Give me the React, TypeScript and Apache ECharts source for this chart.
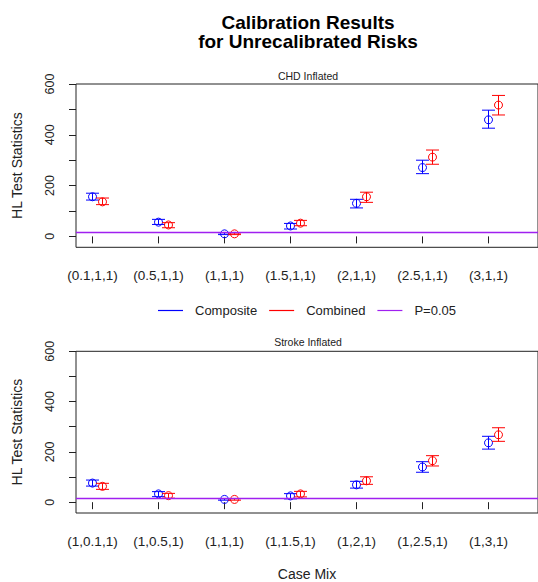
import React, { useEffect, useRef } from "react";
import * as echarts from "echarts";

const categoriesCHD = ["(0.1,1,1)", "(0.5,1,1)", "(1,1,1)", "(1.5,1,1)", "(2,1,1)", "(2.5,1,1)", "(3,1,1)"];
const categoriesStroke = ["(1,0.1,1)", "(1,0.5,1)", "(1,1,1)", "(1,1.5,1)", "(1,2,1)", "(1,2.5,1)", "(1,3,1)"];

// CHD inflated panel
const compositeCHD = [156, 56, 10, 41, 130, 271, 459];
const compositeCHDLo = [143, 47, 7, 29, 112, 247, 426];
const compositeCHDHi = [170, 67, 14, 51, 146, 300, 497];
const combinedCHD = [136, 45, 10, 52, 156, 312, 517];
const combinedCHDLo = [125, 34, 7, 42, 134, 284, 478];
const combinedCHDHi = [151, 54, 13, 63, 174, 340, 555];

// Stroke inflated panel
const compositeStroke = [76, 33, 11, 25, 69, 140, 236];
const compositeStrokeLo = [64, 22, 8, 13, 56, 119, 211];
const compositeStrokeHi = [88, 42, 14, 34, 83, 161, 262];
const combinedStroke = [63, 26, 11, 33, 85, 165, 268];
const combinedStrokeLo = [51, 16, 8, 21, 71, 144, 242];
const combinedStrokeHi = [75, 35, 14, 43, 101, 185, 296];

const pThreshold = 15.51;
const yTicks = [0, 100, 200, 300, 400, 500, 600];
const yLabels = [0, 200, 400, 600];

const FONT = "Liberation Sans, Arial, Helvetica, sans-serif";
const BLUE = "#0000FF";
const RED = "#FF0000";
const PURPLE = "#A020F0";

function rows(vals: number[], lo: number[], hi: number[]) {
  return vals.map((v, i) => [i + 1, v, lo[i], hi[i]]);
}

function makeRender(offsetPx: number, color: string) {
  return (params: any, api: any) => {
    const x = api.value(0);
    const pm = api.coord([x, api.value(1)]);
    const plo = api.coord([x, api.value(2)]);
    const phi = api.coord([x, api.value(3)]);
    const cx = pm[0] + offsetPx;
    const cap = 6.5;
    const st = { stroke: color, lineWidth: 1, fill: "none" };
    return {
      type: "group",
      children: [
        { type: "line", shape: { x1: cx, y1: plo[1], x2: cx, y2: phi[1] }, style: st },
        { type: "line", shape: { x1: cx - cap, y1: plo[1], x2: cx + cap, y2: plo[1] }, style: st },
        { type: "line", shape: { x1: cx - cap, y1: phi[1], x2: cx + cap, y2: phi[1] }, style: st },
        { type: "circle", shape: { cx: cx, cy: pm[1], r: 4 }, style: st },
      ],
    };
  };
}

function xAxisFor(cats: string[], gridIndex: number, withName: boolean) {
  return {
    type: "value",
    gridIndex,
    min: 0.75,
    max: 7.75,
    axisLine: { show: false },
    splitLine: { show: false },
    axisTick: { show: true, length: 7, lineStyle: { color: "#222" }, customValues: cats.map((_, i) => i + 1) },
    axisLabel: {
      show: true,
      customValues: cats.map((_, i) => i + 1),
      formatter: (v: number) => cats[Math.round(v) - 1] ?? "",
      color: "#222",
      fontFamily: FONT,
      fontSize: 13.5,
      margin: 21,
    },
    name: withName ? "Case Mix" : "",
    nameLocation: "middle",
    nameGap: 54,
    nameTextStyle: { color: "#222", fontFamily: FONT, fontSize: 14 },
  };
}

function yAxisFor(gridIndex: number) {
  return {
    type: "value",
    gridIndex,
    min: -43,
    max: 600,
    axisLine: { show: false },
    splitLine: { show: false },
    axisTick: { show: true, length: 7, lineStyle: { color: "#222" }, customValues: yTicks },
    axisLabel: {
      show: true,
      customValues: yLabels,
      rotate: 90,
      color: "#222",
      fontFamily: FONT,
      fontSize: 12.5,
      margin: 20,
    },
    name: "HL Test Statistics",
    nameLocation: "middle",
    nameRotate: 90,
    nameGap: 52,
    nameTextStyle: { color: "#222", fontFamily: FONT, fontSize: 14 },
  };
}

export default function App() {
  const ref = useRef<HTMLDivElement>(null);
  useEffect(() => {
    if (!ref.current) return;
    const chart = echarts.init(ref.current, null, { renderer: "svg" });
    const option: any = {
      animation: false,
      backgroundColor: "#fff",
      title: [
        {
          text: "Calibration Results\nfor Unrecalibrated Risks",
          left: 308,
          top: 12.5,
          padding: 0,
          textAlign: "center",
          textStyle: { fontFamily: FONT, fontSize: 19, fontWeight: "bold", color: "#000", lineHeight: 19 },
        },
        {
          text: "CHD Inflated",
          left: 308,
          top: 70,
          padding: 0,
          textAlign: "center",
          textStyle: { fontFamily: FONT, fontSize: 10.5, fontWeight: "normal", color: "#222" },
        },
        {
          text: "Stroke Inflated",
          left: 308,
          top: 336,
          padding: 0,
          textAlign: "center",
          textStyle: { fontFamily: FONT, fontSize: 10.5, fontWeight: "normal", color: "#222" },
        },
      ],
      legend: {
        left: 158,
        top: 304,
        padding: 0,
        icon: "rect",
        itemWidth: 25,
        itemHeight: 1.2,
        itemGap: 12,
        textStyle: { fontFamily: FONT, fontSize: 13, color: "#222", padding: [0, 0, 0, 7] },
        data: [
          { name: "Composite", itemStyle: { color: BLUE } },
          { name: "Combined", itemStyle: { color: RED } },
          { name: "P=0.05", itemStyle: { color: PURPLE } },
        ],
        selectedMode: false,
      },
      grid: [
        { left: 76, top: 84, width: 465.5, height: 163.3, show: true, borderColor: "#222", borderWidth: 1, backgroundColor: "transparent" },
        { left: 76, top: 351.3, width: 465.5, height: 163.7, show: true, borderColor: "#222", borderWidth: 1, backgroundColor: "transparent" },
      ],
      xAxis: [xAxisFor(categoriesCHD, 0, false), xAxisFor(categoriesStroke, 1, true)],
      yAxis: [yAxisFor(0), yAxisFor(1)],
      series: [
        {
          name: "P=0.05",
          type: "line",
          xAxisIndex: 0,
          yAxisIndex: 0,
          data: [],
          itemStyle: { color: PURPLE },
          lineStyle: { color: PURPLE },
          markLine: { symbol: "none", silent: true, label: { show: false }, lineStyle: { color: PURPLE, width: 1.3, type: "solid" }, data: [{ yAxis: pThreshold }] },
        },
        {
          name: "P=0.05",
          type: "line",
          xAxisIndex: 1,
          yAxisIndex: 1,
          data: [],
          itemStyle: { color: PURPLE },
          lineStyle: { color: PURPLE },
          markLine: { symbol: "none", silent: true, label: { show: false }, lineStyle: { color: PURPLE, width: 1.3, type: "solid" }, data: [{ yAxis: pThreshold }] },
        },
        {
          name: "Composite",
          type: "custom",
          xAxisIndex: 0,
          yAxisIndex: 0,
          itemStyle: { color: BLUE },
          renderItem: makeRender(0, BLUE),
          data: rows(compositeCHD, compositeCHDLo, compositeCHDHi),
          clip: false,
        },
        {
          name: "Combined",
          type: "custom",
          xAxisIndex: 0,
          yAxisIndex: 0,
          itemStyle: { color: RED },
          renderItem: makeRender(10, RED),
          data: rows(combinedCHD, combinedCHDLo, combinedCHDHi),
          clip: false,
        },
        {
          name: "Composite",
          type: "custom",
          xAxisIndex: 1,
          yAxisIndex: 1,
          itemStyle: { color: BLUE },
          renderItem: makeRender(0, BLUE),
          data: rows(compositeStroke, compositeStrokeLo, compositeStrokeHi),
          clip: false,
        },
        {
          name: "Combined",
          type: "custom",
          xAxisIndex: 1,
          yAxisIndex: 1,
          itemStyle: { color: RED },
          renderItem: makeRender(10, RED),
          data: rows(combinedStroke, combinedStrokeLo, combinedStrokeHi),
          clip: false,
        },
      ],
    };
    chart.setOption(option);
    return () => chart.dispose();
  }, []);
  return <div ref={ref} style={{ position: "absolute", left: 0, top: 0, width: 538, height: 582 }} />;
}
